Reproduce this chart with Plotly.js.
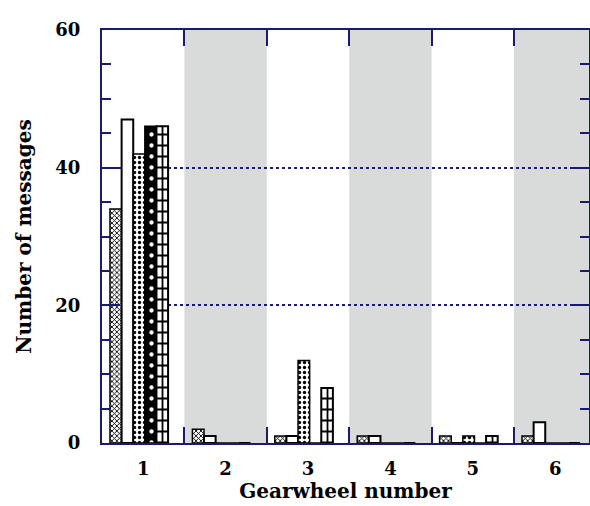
<!DOCTYPE html>
<html>
<head>
<meta charset="utf-8">
<script src="https://cdn.plot.ly/plotly-3.0.1.min.js"></script>
<style>html,body{margin:0;padding:0;background:#fff;}</style>
</head>
<body>
<div id="chart" style="width:590px;height:506px;"></div>
<script>
// Data
const categories = ["1", "2", "3", "4", "5", "6"];
const series1 = [34, 2, 1, 1, 1, 1];
const series2 = [47, 1, 1, 1, 0, 3];
const series3 = [42, 0, 12, 0, 1, 0];
const series4 = [46, 0, 0, 0, 0, 0];
const series5 = [46, 0, 8, 0, 1, 0];
const shadedCategories = ["2", "4", "6"];

const navy = "#1a1a72";
const barW = 0.141;
const firstOff = -0.403;

function bar(y, idx, marker) {
  return {
    type: "bar", x: categories, y: y,
    width: barW, offset: firstOff + idx * barW,
    marker: marker, hoverinfo: "skip", showlegend: false
  };
}

const traces = [
  bar(series1, 0, {color: "#ffffff", line: {color: "#000", width: 1.5},
    pattern: {shape: "x", fgcolor: "#000", bgcolor: "#fff", size: 3.5, solidity: 0.45}}),
  bar(series2, 1, {color: "#ffffff", line: {color: "#000", width: 2}}),
  bar(series3, 2, {color: "#ffffff", line: {color: "#000", width: 1.5},
    pattern: {shape: ".", fgcolor: "#000", bgcolor: "#fff", size: 5, solidity: 0.35}}),
  bar(series4, 3, {color: "#000000", line: {color: "#000", width: 1.5},
    pattern: {shape: ".", fgcolor: "#fff", bgcolor: "#000", size: 11, solidity: 0.12}}),
  bar(series5, 4, {color: "#ffffff", line: {color: "#000", width: 2},
    pattern: {shape: "+", fgcolor: "#000", bgcolor: "#fff", size: 11, solidity: 0.3}})
];

const shapes = shadedCategories.map(c => {
  const i = categories.indexOf(c);
  return {type: "rect", xref: "x", yref: "paper", x0: i - 0.5, x1: i + 0.5, y0: 0, y1: 1,
    fillcolor: "#d9dbda", line: {width: 0}, layer: "below"};
});

const tickFont = {family: "DejaVu Serif", size: 18, color: "#000", weight: "bold"};
const titleFont = {family: "DejaVu Serif", size: 20, color: "#000", weight: "bold"};

const layout = {
  width: 590, height: 506,
  margin: {l: 102, r: 1, t: 30, b: 63},
  paper_bgcolor: "#fff", plot_bgcolor: "#fff",
  showlegend: false,
  barmode: "overlay",
  font: tickFont,
  shapes: shapes,
  xaxis: {
    type: "category", range: [-0.5, 5.41],
    tickson: "boundaries", ticks: "inside", ticklen: 16, tickwidth: 2, tickcolor: navy,
    showline: true, linecolor: navy, linewidth: 2, mirror: "ticks",
    showgrid: false, zeroline: false,
    tickfont: tickFont, ticklabelstandoff: 8,
    title: {text: "Gearwheel number", font: titleFont, standoff: 4}
  },
  yaxis: {
    range: [0, 60], dtick: 20, tick0: 0,
    ticks: "inside", ticklen: 18, tickwidth: 2, tickcolor: navy,
    minor: {dtick: 5, ticks: "inside", ticklen: 9, tickwidth: 2, tickcolor: navy, showgrid: false},
    showline: true, linecolor: navy, linewidth: 2, mirror: "ticks",
    showgrid: true, gridcolor: navy, griddash: "dot", gridwidth: 2,
    zeroline: false,
    tickfont: tickFont, ticklabelstandoff: 16,
    title: {text: "Number of messages", font: titleFont, standoff: 18}
  }
};

Plotly.newPlot("chart", traces, layout, {staticPlot: true, displayModeBar: false});
</script>
</body>
</html>
